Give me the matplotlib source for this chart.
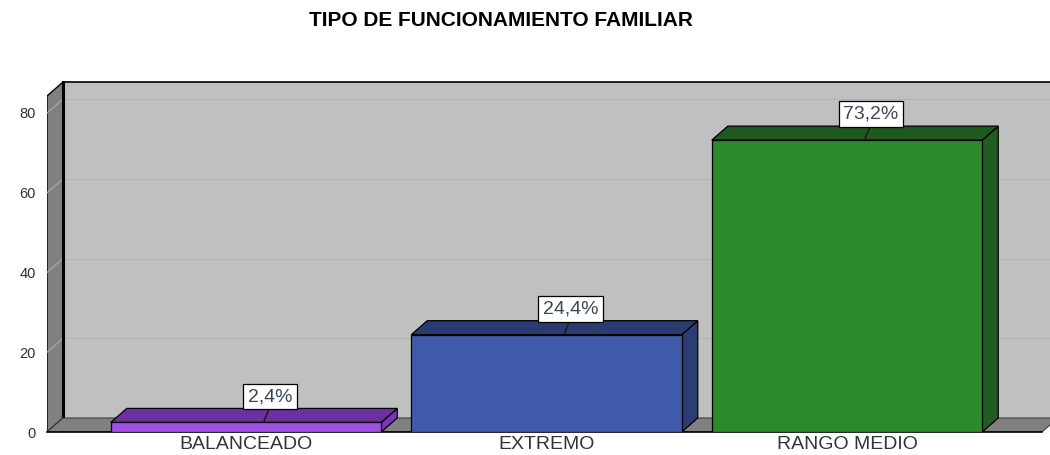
import numpy as np
import matplotlib.pyplot as plt
from matplotlib.patches import Polygon, Rectangle

plt.rcParams["font.family"] = ["Liberation Sans", "DejaVu Sans"]

categories = ["BALANCEADO", "EXTREMO", "RANGO MEDIO"]
values = [2.4, 24.4, 73.2]
labels = ["2,4%", "24,4%", "73,2%"]
y_ticks = [0, 20, 40, 60, 80]

# colours per bar: front, top, side
front_cols = ["#a24fe6", "#3f5aa8", "#2b8a2b"]
top_cols = ["#6e2fa0", "#2a3b72", "#1e5a1e"]
side_cols = ["#7a36b4", "#2c3d74", "#215c21"]

# pixel -> data scale (x: one category = 300.5 px, y: one unit = 3.99 px)
PX_X = 1 / 300.5
PX_Y = 1 / 3.9875
DX = 16 * PX_X   # depth offset
DY = 14 * PX_Y
BAR_W = 0.9

fig = plt.figure(figsize=(10.5, 4.55), dpi=100)
ax = fig.add_axes([47 / 1050, (455 - 432) / 455, 1003 / 1050, 362 / 455])
x0, x1 = -(246 - 47) * PX_X, (1050 - 246) * PX_X
ax.set_xlim(x0, x1)
ax.set_ylim(0, 362 * PX_Y)
for s in ax.spines.values():
    s.set_visible(False)
ax.patch.set_visible(False)

H = (432 - 82) * PX_Y - DY   # wall height (front-equivalent)
xr = (1042 - 246) * PX_X

# back wall
ax.add_patch(Rectangle((x0 + DX, DY), x1 - x0 + 1, H, facecolor="#c0c0c0",
                       edgecolor="none", zorder=0))
ax.plot([x0 + DX, x1 + 1], [H + DY, H + DY], color="black", lw=1.2, zorder=1)
for t in y_ticks[1:]:
    ax.plot([x0 + DX, x1 + 1], [t + DY, t + DY], color="#b4b4b4", lw=0.9, zorder=1)

# left wall
ax.add_patch(Polygon([(x0, 0), (x0, H), (x0 + DX, H + DY), (x0 + DX, DY)],
                     closed=True, facecolor="#808080", edgecolor="black",
                     lw=1.0, zorder=1))
for t in y_ticks[1:]:
    ax.plot([x0, x0 + DX], [t, t + DY], color="#a8a8a8", lw=0.9, zorder=2)
ax.plot([x0 + DX, x0 + DX], [DY, H + DY], color="black", lw=2.2, zorder=2)

# floor
ax.add_patch(Polygon([(x0, 0), (xr, 0), (xr + DX, DY), (x0 + DX, DY)],
                     closed=True, facecolor="#808080", edgecolor="#404040",
                     lw=0.8, zorder=2))
ax.plot([x0, xr], [0, 0], color="black", lw=1.2, zorder=3, clip_on=False)

# bars
for i, v in enumerate(values):
    l, r = i - BAR_W / 2, i + BAR_W / 2
    ax.add_patch(Polygon([(r, 0), (r + DX, DY), (r + DX, v + DY), (r, v)],
                         closed=True, facecolor=side_cols[i], edgecolor="black",
                         lw=0.9, zorder=4))
    ax.add_patch(Polygon([(l, v), (r, v), (r + DX, v + DY), (l + DX, v + DY)],
                         closed=True, facecolor=top_cols[i], edgecolor="black",
                         lw=0.9, zorder=4))
    ax.add_patch(Rectangle((l, 0), BAR_W, v, facecolor=front_cols[i],
                           edgecolor="black", lw=0.9, zorder=5))
    # data label with leader line
    lx = i + 24 * PX_X
    ax.plot([i + 18 * PX_X, lx], [v + 0.3, v + 4.0], color="#1a1a1a",
            lw=1.1, zorder=6)
    ax.text(lx, v + 6.5, labels[i], ha="center", va="center", fontsize=14,
            color="#3b4658", zorder=7,
            bbox=dict(boxstyle="square,pad=0.22", facecolor="white",
                      edgecolor="black", lw=0.9))

ax.set_xticks(range(len(categories)))
ax.set_xticklabels(categories, fontsize=14, color="#333333")
ax.set_yticks(y_ticks)
ax.set_yticklabels([str(t) for t in y_ticks], fontsize=10.5, color="#333333")
ax.tick_params(axis="x", length=0, pad=3)
ax.tick_params(axis="y", length=0, pad=8)

fig.text(501 / 1050, 1 - 21 / 455, "TIPO DE FUNCIONAMIENTO FAMILIAR",
         ha="center", va="center", fontsize=15, fontweight="bold", color="black")

fig.savefig("out.png", dpi=100, facecolor="white")
